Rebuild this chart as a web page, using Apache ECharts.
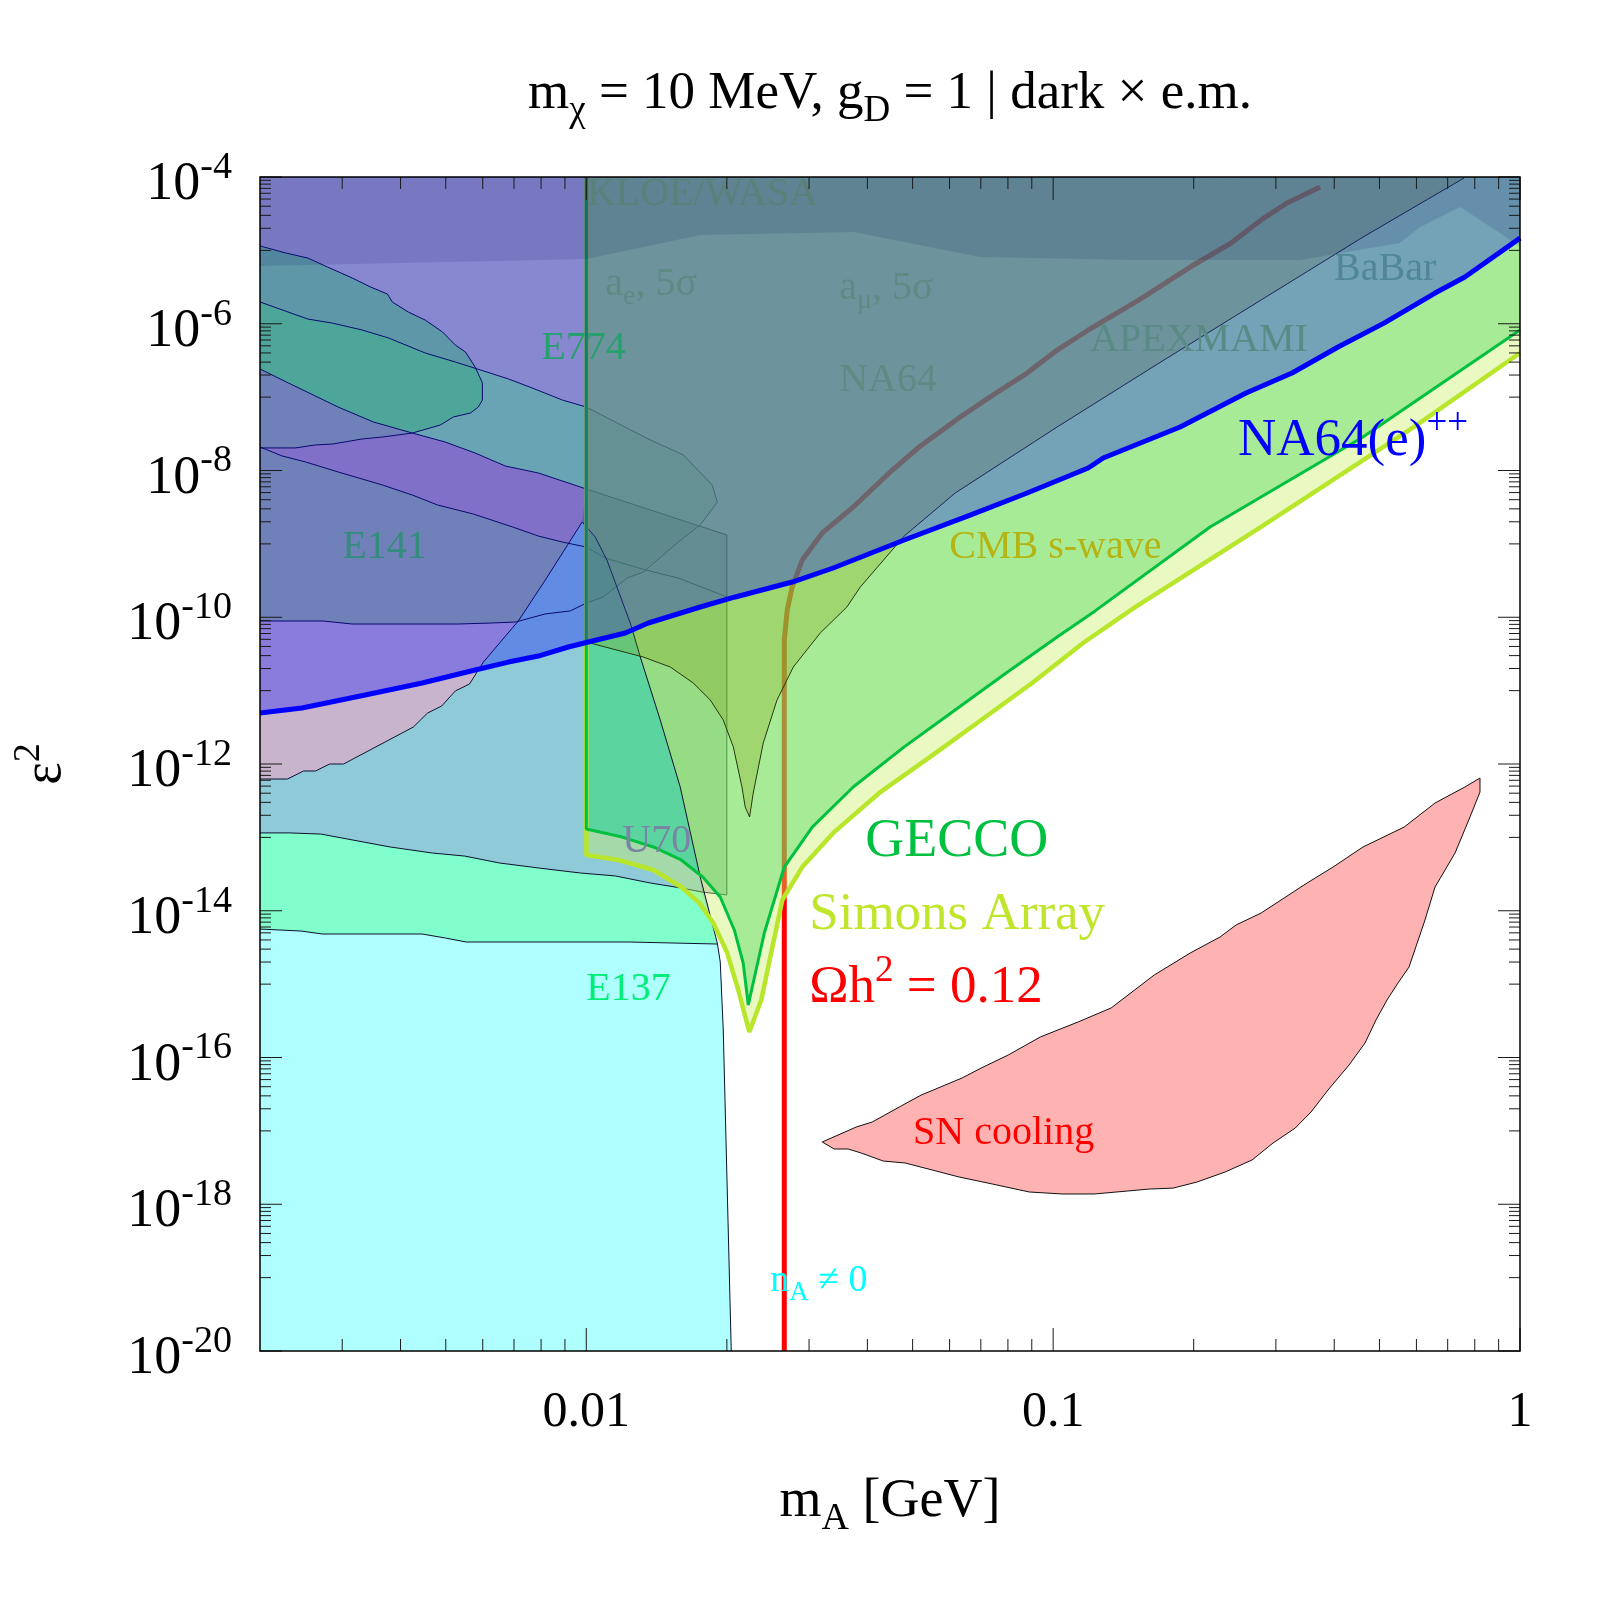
<!DOCTYPE html>
<html>
<head>
<meta charset="utf-8">
<script src="https://cdn.jsdelivr.net/npm/echarts/dist/echarts.min.js"></script>
<style>
html, body { margin: 0; padding: 0; background: #fff; }
#chart { width: 1600px; height: 1600px; }
</style>
</head>
<body>
<div id="chart"></div>
<script>
// axes: m_A [GeV] (log) vs epsilon^2 (log)
const X_MIN = 0.002, X_MAX = 1, Y_MIN = 1e-20, Y_MAX = 1e-4;
const FONT = '"Liberation Serif", "Times New Roman", serif';

// tick values
const xTickValues = [0.01, 0.1, 1];
const xTickLabels = ['0.01', '0.1', '1'];
const xMinorTicks = [0.003, 0.004, 0.005, 0.006, 0.007, 0.008, 0.009,
    0.02, 0.03, 0.04, 0.05, 0.06, 0.07, 0.08, 0.09,
    0.2, 0.3, 0.4, 0.5, 0.6, 0.7, 0.8, 0.9];
const yTickExps = [-20, -18, -16, -14, -12, -10, -8, -6, -4];
const yMinorMantissas = [1, 2, 3, 4, 5, 6, 7, 8, 9];

// ---- left-side beam dump regions ----
const e137Left = [[0.002, 6.24e-13], [0.00229, 6.24e-13], [0.00248, 8.03e-13], [0.00263, 8.03e-13], [0.00282, 1.0e-12],
    [0.00302, 1.0e-12], [0.00426, 3.19e-12], [0.00457, 4.95e-12], [0.0049, 6.17e-12], [0.00524, 9.89e-12],
    [0.00562, 1.23e-11], [0.00602, 2.45e-11], [0.00715, 8.89e-11], [0.00817, 3.22e-10], [0.0098, 1.99e-9]];
const e137Right = [[0.0098, 1.99e-9], [0.01045, 1.24e-9], [0.01107, 6.03e-10], [0.01242, 8.35e-11], [0.01305, 2.87e-11],
    [0.0144, 3.98e-12], [0.01589, 4.86e-13], [0.01754, 2.88e-14], [0.01908, 3.63e-15],
    [0.01936, 2.0e-15], [0.01965, 2.37e-16], [0.02044, 1e-20]];
const mintTop = [[0.002, 1.15e-13], [0.00231, 1.15e-13], [0.0027, 1.11e-13], [0.0038, 7.4e-14], [0.00468, 6.12e-14],
    [0.00548, 5.57e-14], [0.00651, 4.48e-14], [0.00789, 3.83e-14], [0.00971, 3.27e-14], [0.01154, 2.98e-14],
    [0.01371, 2.39e-14], [0.01597, 2.04e-14], [0.0177, 1.8e-14]];
const cyanTop = [[0.002, 5.63e-15], [0.00245, 5.29e-15], [0.00272, 4.82e-15], [0.00445, 4.82e-15], [0.00499, 4.25e-15],
    [0.00553, 3.75e-15], [0.01236, 3.75e-15], [0.01908, 3.52e-15]];
const s1Top = [[0.002, 1.15e-5], [0.00227, 9.21e-6], [0.00253, 7.87e-6], [0.00279, 5.93e-6], [0.00315, 4.21e-6],
    [0.00345, 3.17e-6], [0.00375, 2.54e-6], [0.00384, 1.98e-6], [0.00416, 1.44e-6], [0.00452, 1.12e-6],
    [0.00492, 7.72e-7], [0.00524, 5.13e-7], [0.00551, 4.12e-7], [0.00578, 2.57e-7], [0.00599, 1.56e-7],
    [0.00599, 9.13e-8], [0.00587, 7.33e-8], [0.00565, 6.08e-8], [0.00519, 5.36e-8], [0.00487, 4.17e-8],
    [0.00424, 3.24e-8]];
const s1Bot = [[0.00424, 3.24e-8], [0.00366, 2.86e-8], [0.00331, 2.69e-8], [0.00287, 2.3e-8], [0.00263, 2.23e-8],
    [0.00238, 2.03e-8], [0.002, 2.03e-8]];
const s2Top = [[0.002, 1.98e-6], [0.00253, 1.16e-6], [0.00286, 1.02e-6], [0.00331, 8.22e-7], [0.00377, 6.4e-7],
    [0.00452, 3.99e-7], [0.00524, 3.01e-7], [0.00584, 2.42e-7], [0.00681, 1.77e-7], [0.00766, 1.33e-7],
    [0.00888, 9.14e-8], [0.01, 7.33e-8]];
const s2Bot = [[0.002, 2.42e-7], [0.0023, 1.56e-7], [0.00294, 7.33e-8], [0.0035, 4.58e-8], [0.00424, 3.24e-8],
    [0.00499, 2.44e-8], [0.00578, 1.73e-8], [0.00671, 1.15e-8], [0.00789, 9.25e-9], [0.01, 5.6e-9], [0.02, 1.32e-9]];
const uTop = [[0.002, 2.09e-8], [0.00223, 1.58e-8], [0.0025, 1.31e-8], [0.00294, 9.55e-9], [0.00366, 6.34e-9],
    [0.00424, 4.63e-9], [0.0048, 3.39e-9], [0.00573, 2.55e-9], [0.00695, 1.7e-9], [0.00789, 1.28e-9],
    [0.00888, 1.06e-9], [0.01, 9.06e-10], [0.01098, 6.41e-10], [0.01338, 4.41e-10], [0.01574, 3.43e-10],
    [0.02, 1.89e-10]];
const l620 = [[0.002, 8.89e-11], [0.00273, 8.89e-11], [0.00315, 8.09e-11], [0.00532, 8.09e-11], [0.00629, 8.35e-11],
    [0.00705, 8.61e-11], [0.00817, 1.11e-10], [0.00924, 1.22e-10], [0.01, 1.52e-10]];
const e774Right = [[0.01, 7.33e-8], [0.01165, 4.43e-8], [0.01371, 2.61e-8], [0.01614, 1.63e-8], [0.01861, 6.34e-9],
    [0.01908, 3.72e-9], [0.01754, 1.81e-9], [0.01566, 1.03e-9], [0.01325, 4.14e-10], [0.01224, 3.43e-10],
    [0.01087, 1.89e-10], [0.01, 1.56e-10]];
const u70Box = [[0.01, 5.6e-9], [0.02, 1.32e-9], [0.02, 1.64e-14], [0.0177, 1.8e-14], [0.01754, 2.88e-14],
    [0.01589, 4.86e-13], [0.0144, 3.98e-12], [0.01305, 2.87e-11], [0.01242, 8.35e-11], [0.01107, 6.03e-10],
    [0.01045, 1.24e-9], [0.0098, 1.99e-9]];
const e137GeccoZone = [[0.01, 1.3e-13], [0.01, 4.6e-11], [0.01212, 6.1e-11], [0.0126, 6.8e-11], [0.01305, 2.87e-11],
    [0.0144, 3.98e-12], [0.01589, 4.86e-13], [0.0174, 3.3e-14], [0.01597, 4.92e-14], [0.01392, 7.4e-14],
    [0.01194, 1.01e-13]];
const topBand = [[0.002, 1e-4], [1, 1e-4], [1, 1.11e-5], [0.906, 1.73e-5], [0.744, 3.9e-5], [0.611, 2.08e-5],
    [0.553, 1.26e-5], [0.338, 7.39e-6], [0.149, 7.39e-6], [0.0698, 8.12e-6], [0.0373, 1.78e-5],
    [0.01754, 1.62e-5], [0.01, 7.62e-6], [0.002, 6.12e-6]];

// ---- forecasts, cosmology, NA64 ----
const geccoLine = [[0.01, 1e-4], [0.01, 1.3e-13], [0.01194, 1.01e-13], [0.01392, 7.4e-14], [0.01597, 4.92e-14],
    [0.01776, 2.88e-14], [0.01936, 1.54e-14], [0.02075, 5.47e-15], [0.02168, 1.94e-15], [0.02223, 5.19e-16],
    [0.02406, 4.98e-15], [0.02655, 3.94e-14], [0.03048, 1.38e-13], [0.0373, 4.86e-13], [0.04797, 1.71e-12],
    [0.06166, 5.45e-12], [0.0793, 1.74e-11], [0.102, 5.38e-11], [0.123, 1.22e-10], [0.2168, 1.7e-9],
    [0.461, 2.86e-8], [1, 8.22e-7]];
const simonsLine = [[0.01, 1e-4], [0.01, 5.75e-14], [0.01171, 4.92e-14], [0.01392, 3.59e-14], [0.01597, 2.11e-14],
    [0.01746, 1.28e-14], [0.01871, 6.81e-15], [0.02004, 2.65e-15], [0.02116, 8.32e-16], [0.02234, 2.23e-16],
    [0.0237, 6.08e-16], [0.02629, 1.4e-14], [0.02901, 3.94e-14], [0.0338, 1.15e-13], [0.04241, 4.03e-13],
    [0.05452, 1.25e-12], [0.07013, 3.98e-12], [0.09016, 1.27e-11], [0.1159, 4.46e-11], [0.149, 1.34e-10],
    [0.2789, 1.7e-9], [0.593, 3.92e-8], [1, 3.99e-7]];
const cmbLine = [[0.01, 4.6e-11], [0.01325, 2.87e-11], [0.01513, 2.1e-11], [0.01695, 1.27e-11], [0.01843, 7.45e-12],
    [0.01965, 3.98e-12], [0.02065, 1.71e-12], [0.02155, 4.86e-13], [0.0219, 2.59e-13], [0.02237, 1.9e-13],
    [0.02278, 4.03e-13], [0.02393, 1.93e-12], [0.02561, 7.45e-12], [0.02776, 2.1e-11], [0.0317, 6.1e-11],
    [0.03615, 1.38e-10], [0.03862, 2.58e-10], [0.04797, 1.28e-9], [0.06166, 4.93e-9], [0.102, 3.92e-8],
    [0.1687, 2.92e-7], [0.2789, 2.11e-6], [0.461, 1.52e-5], [0.7587, 9.69e-5]];
const na64eLine = [[0.002, 4.95e-12], [0.00246, 5.79e-12], [0.00336, 8.71e-12], [0.00445, 1.27e-11], [0.00578, 1.91e-11],
    [0.00681, 2.45e-11], [0.00789, 2.96e-11], [0.00915, 3.93e-11], [0.0101, 4.6e-11], [0.01212, 6.1e-11],
    [0.01358, 8.35e-11], [0.01754, 1.38e-10], [0.02085, 1.89e-10], [0.02761, 3.02e-10], [0.0338, 4.69e-10],
    [0.04797, 1.13e-9], [0.06642, 2.47e-9], [0.08796, 4.93e-9], [0.1189, 1.08e-8], [0.128, 1.48e-8],
    [0.1871, 3.92e-8], [0.259, 1.14e-7], [0.325, 2.13e-7], [0.4077, 4.82e-7], [0.5114, 1.02e-6],
    [0.6577, 2.62e-6], [0.7621, 4.34e-6], [1, 1.47e-5]];
const relicLine = [[0.02655, 1e-20], [0.02655, 4.9e-11], [0.02694, 1.26e-10], [0.02761, 2.58e-10], [0.02901, 6.03e-10],
    [0.03202, 1.41e-9], [0.0373, 3.18e-9], [0.04455, 9.25e-9], [0.05164, 2.09e-8], [0.06323, 5.36e-8],
    [0.07551, 1.14e-7], [0.08796, 2.13e-7], [0.102, 4.38e-7], [0.1189, 8.22e-7], [0.1528, 2.11e-6],
    [0.1965, 5.93e-6], [0.2406, 1.26e-5], [0.2789, 2.6e-5], [0.317, 4.43e-5], [0.373, 7.31e-5]];
const snCooling = [[0.03202, 7.05e-18], [0.03396, 5.66e-18], [0.03639, 5.66e-18], [0.03881, 4.99e-18], [0.04325, 3.88e-18],
    [0.04819, 3.65e-18], [0.05507, 2.93e-18], [0.0629, 2.35e-18], [0.07402, 1.89e-18], [0.08884, 1.47e-18],
    [0.1045, 1.38e-18], [0.1224, 1.38e-18], [0.1606, 1.61e-18], [0.1807, 1.66e-18], [0.2034, 2.01e-18],
    [0.2335, 2.75e-18], [0.2667, 4.01e-18], [0.2959, 6.84e-18], [0.3298, 1.09e-17], [0.3568, 1.81e-17],
    [0.388, 3.61e-17], [0.4304, 7.91e-17], [0.4657, 1.58e-16], [0.4916, 3.25e-16], [0.519, 6.08e-16],
    [0.5481, 1.04e-15], [0.5785, 1.71e-15], [0.6259, 7.48e-15], [0.6577, 2.11e-14], [0.7259, 6.12e-14],
    [0.7816, 1.9e-13], [0.8209, 4.15e-13], [0.8209, 6.44e-13], [0.7621, 4.86e-13], [0.6577, 2.94e-13],
    [0.5645, 1.38e-13], [0.461, 7.4e-14], [0.3977, 3.94e-14], [0.3499, 2.39e-14], [0.2789, 9.31e-15],
    [0.2465, 6.4e-15], [0.2278, 4.39e-15], [0.1965, 2.65e-15], [0.1646, 1.33e-15], [0.1331, 4.73e-16],
    [0.1131, 3.05e-16], [0.0938, 1.9e-16], [0.0801, 1.08e-16], [0.07013, 7.19e-17], [0.06383, 5.26e-17],
    [0.05217, 3.08e-17], [0.04678, 2.11e-17], [0.04097, 1.32e-17], [0.03787, 1.13e-17]];

// ---- labels ----
const labelTexts = ['{b|KLOE/WASA}', '{b|a}{sub|e}{b|, 5σ}', '{b|a}{sub|μ}{b|, 5σ}', '{b|NA64}', '{b|APEXMAMI}',
    '{b|BaBar}', '{b|E774}', '{b|E141}', '{b|U70}', '{b|E137}', '{b|CMB s-wave}', '{b|NA64(e)}{sup|++}',
    '{b|GECCO}', '{b|Simons Array}', '{b|Ωh}{sup|2}{b| = 0.12}', '{b|SN cooling}', '{b|n}{sub|A}{b| ≠ 0}'];
const labelPositions = [[0.01003, 5.86e-5], [0.01098, 3.48e-6], [0.03481, 3.07e-6], [0.03481, 1.71e-7], [0.12, 5.82e-7],
    [0.3997, 5.41e-6], [0.00801, 4.53e-7], [0.003, 9.06e-10], [0.01194, 8.65e-14], [0.01, 8.32e-16],
    [0.05989, 9.06e-10], [0.2489, 2.52e-8], [0.03957, 8.65e-14], [0.03002, 8.75e-15], [0.03002, 8.85e-16],
    [0.05012, 9.35e-18], [0.02477, 9.0e-20]];
const labelColors = ['#5a807a', '#5e8a84', '#5e8a84', '#5e8a84', '#5a8a86', '#4f8796', '#28a06e', '#348c7c',
    '#7a84a4', '#00ee77', '#b4b414', '#0000ff', '#00c040', '#bfe62a', '#ff0000', '#ff0000', '#00ffff'];
const labelSizes = [40, 40, 40, 40, 40, 40, 40, 40, 40, 40, 40, 53, 54, 53, 53, 40, 38];

function richText(size, color) {
    const ss = Math.round(size * 0.7);
    const off = Math.round(size * 0.32);
    return {
        b: { fontSize: size, fontFamily: FONT, fill: color, lineHeight: ss + 2 * off },
        sup: { fontSize: ss, fontFamily: FONT, fill: color, lineHeight: ss, verticalAlign: 'top' },
        sub: { fontSize: ss, fontFamily: FONT, fill: color, lineHeight: ss, verticalAlign: 'bottom' }
    };
}

function polygonSeries(points, fill, stroke, lineWidth) {
    return {
        type: 'custom', coordinateSystem: 'cartesian2d', clip: true, silent: true,
        data: [points[0]],
        renderItem: function (params, api) {
            return {
                type: 'polygon',
                shape: { points: points.map(function (p) { return api.coord(p); }) },
                style: { fill: fill, stroke: stroke || 'none', lineWidth: lineWidth || 0 }
            };
        }
    };
}

function lineSeries(points, color, width) {
    return {
        type: 'line', data: points, symbol: 'none', showSymbol: false, clip: true, silent: true,
        lineStyle: { color: color, width: width }, emphasis: { disabled: true }
    };
}

function labelSeries() {
    return {
        type: 'custom', coordinateSystem: 'cartesian2d', clip: false, silent: true,
        data: [[0.01, 1e-10]],
        renderItem: function (params, api) {
            const children = labelTexts.map(function (t, i) {
                const p = api.coord(labelPositions[i]);
                return {
                    type: 'text', x: p[0], y: p[1],
                    style: { text: t, rich: richText(labelSizes[i], labelColors[i]), align: 'left', verticalAlign: 'middle' }
                };
            });
            return { type: 'group', children: children };
        }
    };
}

function axesSeries() {
    return {
        type: 'custom', coordinateSystem: 'cartesian2d', clip: false, silent: true,
        data: [[0.01, 1e-10]],
        renderItem: function (params, api) {
            const tl = api.coord([X_MIN, Y_MAX]);
            const br = api.coord([X_MAX, Y_MIN]);
            const left = tl[0], top = tl[1], right = br[0], bottom = br[1];
            const children = [];
            function tick(x1, y1, x2, y2) {
                children.push({ type: 'line', shape: { x1: x1, y1: y1, x2: x2, y2: y2 }, style: { stroke: '#1a1a1a', lineWidth: 1 } });
            }
            xMinorTicks.forEach(function (v) {
                const x = api.coord([v, Y_MIN])[0];
                tick(x, bottom, x, bottom - 12); tick(x, top, x, top + 12);
            });
            xTickValues.forEach(function (v, i) {
                const x = api.coord([v, Y_MIN])[0];
                tick(x, bottom, x, bottom - 23); tick(x, top, x, top + 23);
                children.push({ type: 'text', x: x, y: bottom + 62,
                    style: { text: xTickLabels[i], fontSize: 50, fontFamily: FONT, fill: '#000', align: 'center', verticalAlign: 'middle' } });
            });
            yTickExps.forEach(function (e) {
                const y = api.coord([X_MIN, Math.pow(10, e)])[1];
                tick(left, y, left + 22, y); tick(right, y, right - 22, y);
                children.push({ type: 'text', x: left - 28, y: y + 8,
                    style: { text: '{b|10}{sup|' + e + '}', rich: richText(54, '#000'), align: 'right', verticalAlign: 'middle' } });
                if (e > -20) {
                    yMinorMantissas.forEach(function (m) {
                        const yy = api.coord([X_MIN, m * Math.pow(10, e - 1)])[1];
                        tick(left, yy, left + 11, yy); tick(right, yy, right - 11, yy);
                    });
                }
            });
            children.push({ type: 'rect', shape: { x: left, y: top, width: right - left, height: bottom - top },
                style: { fill: 'none', stroke: '#000', lineWidth: 1.5 } });
            const cx = (left + right) / 2;
            children.push({ type: 'text', x: cx, y: top - 83,
                style: { text: '{b|m}{sub|χ}{b| = 10 MeV, g}{sub|D}{b| = 1 | dark × e.m.}', rich: richText(53, '#000'),
                    align: 'center', verticalAlign: 'middle' } });
            children.push({ type: 'text', x: cx, y: bottom + 151,
                style: { text: '{b|m}{sub|A}{b| [GeV]}', rich: richText(54, '#000'), align: 'center', verticalAlign: 'middle' } });
            children.push({ type: 'text', x: left - 214, y: (top + bottom) / 2, rotation: Math.PI / 2,
                style: { text: '{b|ε}{sup|2}', rich: richText(54, '#000'), align: 'center', verticalAlign: 'middle' } });
            return { type: 'group', children: children };
        }
    };
}

// assemble region polygons from the boundary arrays
const s2BotLeft = s2Bot.filter(function (p) { return p[0] <= 0.01; });
const uTopLeft = uTop.filter(function (p) { return p[0] <= 0.01; });
const l620Rev = l620.slice().reverse();
const pinkRegion = [[0.002, 1e-4]].concat(e137Left, [[0.01, 1.99e-9], [0.01, 1e-4]]);
const lilacRegion = [[0.002, 1e-4], [0.01, 1e-4]].concat(s2BotLeft.slice().reverse());
const purpleBand = s2BotLeft.concat(l620Rev);
const e141Band = uTopLeft.concat(l620Rev);
const wedge = s2Bot.slice(0, 5).concat(s1Bot.slice(1));
const s2Band = s2Top.concat(s2BotLeft.slice().reverse());
const s1Region = s1Top.concat(s2Bot.slice(0, 4).reverse());
const e137Region = [[0.002, 1e-20]].concat(e137Left, e137Right.slice(1));
const mintRegion = mintTop.concat(e137Right.filter(function (p) { return p[1] < 1.8e-14; }), [[0.002, 1e-20]]);
const cyanRegion = cyanTop.concat(e137Right.filter(function (p) { return p[1] < 3.5e-15; }), [[0.002, 1e-20]]);
const simonsRegion = simonsLine.concat([[1, 1e-4]]);
const geccoRegion = geccoLine.concat([[1, 1e-4]]);
const cmbRegion = [[0.01, 1e-4]].concat(cmbLine);
const na64eRegion = [[0.002, 1e-4]].concat(na64eLine, [[1, 1e-4]]);

const EDGE = '#0d1030';
const series = [
    polygonSeries(pinkRegion, 'rgb(200,180,204)'),
    polygonSeries(lilacRegion, 'rgb(197,197,187)'),
    polygonSeries(purpleBand, 'rgb(186,162,175)'),
    polygonSeries(e141Band, 'rgb(162,186,152)'),
    polygonSeries(wedge, 'rgb(162,186,152)'),
    polygonSeries(s2Band, 'rgb(151,238,146)'),
    polygonSeries(s1Region, 'rgba(75,243,71,0.5)'),
    polygonSeries(e137Region, 'rgb(142,202,216)'),
    polygonSeries(mintRegion, 'rgb(128,255,204)'),
    polygonSeries(cyanRegion, 'rgb(176,255,255)'),
    lineSeries(e137Left, EDGE, 1),
    lineSeries(s1Top.concat(s1Bot.slice(1)), EDGE, 1),
    lineSeries(s2Top.concat(e774Right.slice(1), l620Rev), EDGE, 1),
    lineSeries(s2Bot, EDGE, 1),
    lineSeries(uTop, EDGE, 1),
    lineSeries([[0.02, 1.32e-9], [0.02, 1.64e-14]], EDGE, 1),
    lineSeries(mintTop.concat([[0.02, 1.64e-14]]), EDGE, 1),
    lineSeries(cyanTop, EDGE, 1),
    lineSeries(relicLine, '#ff0000', 5),
    polygonSeries(e774Right, 'rgba(40,170,60,0.2)'),
    polygonSeries(u70Box, 'rgba(16,40,24,0.2)'),
    polygonSeries(simonsRegion, 'rgba(200,240,100,0.4)'),
    polygonSeries(geccoRegion, 'rgba(70,214,84,0.4)'),
    polygonSeries(e137GeccoZone, 'rgb(92,212,160)'),
    lineSeries(e137Right, EDGE, 1),
    lineSeries(cmbLine, '#1a2a10', 1),
    lineSeries(simonsLine, '#b8e62a', 4.5),
    lineSeries(geccoLine, '#00c040', 3),
    polygonSeries(cmbRegion, 'rgba(130,150,0,0.25)'),
    polygonSeries(topBand, 'rgba(0,20,20,0.12)'),
    polygonSeries(na64eRegion, 'rgba(0,0,255,0.31)'),
    lineSeries(na64eLine, '#0000ff', 5),
    polygonSeries(snCooling, '#ffb2b2', '#111', 1),
    labelSeries(),
    axesSeries()
];
series.forEach(function (s, i) { s.z = i + 1; });

const chart = echarts.init(document.getElementById('chart'));
chart.setOption({
    backgroundColor: '#fff',
    animation: false,
    grid: { left: 260, right: 80, top: 177, bottom: 249, show: false },
    xAxis: {
        type: 'log', logBase: 10, min: X_MIN, max: X_MAX,
        axisLine: { show: false }, axisTick: { show: false }, axisLabel: { show: false }, splitLine: { show: false }
    },
    yAxis: {
        type: 'log', logBase: 10, min: Y_MIN, max: Y_MAX,
        axisLine: { show: false }, axisTick: { show: false }, axisLabel: { show: false }, splitLine: { show: false }
    },
    series: series
});
</script>
</body>
</html>
